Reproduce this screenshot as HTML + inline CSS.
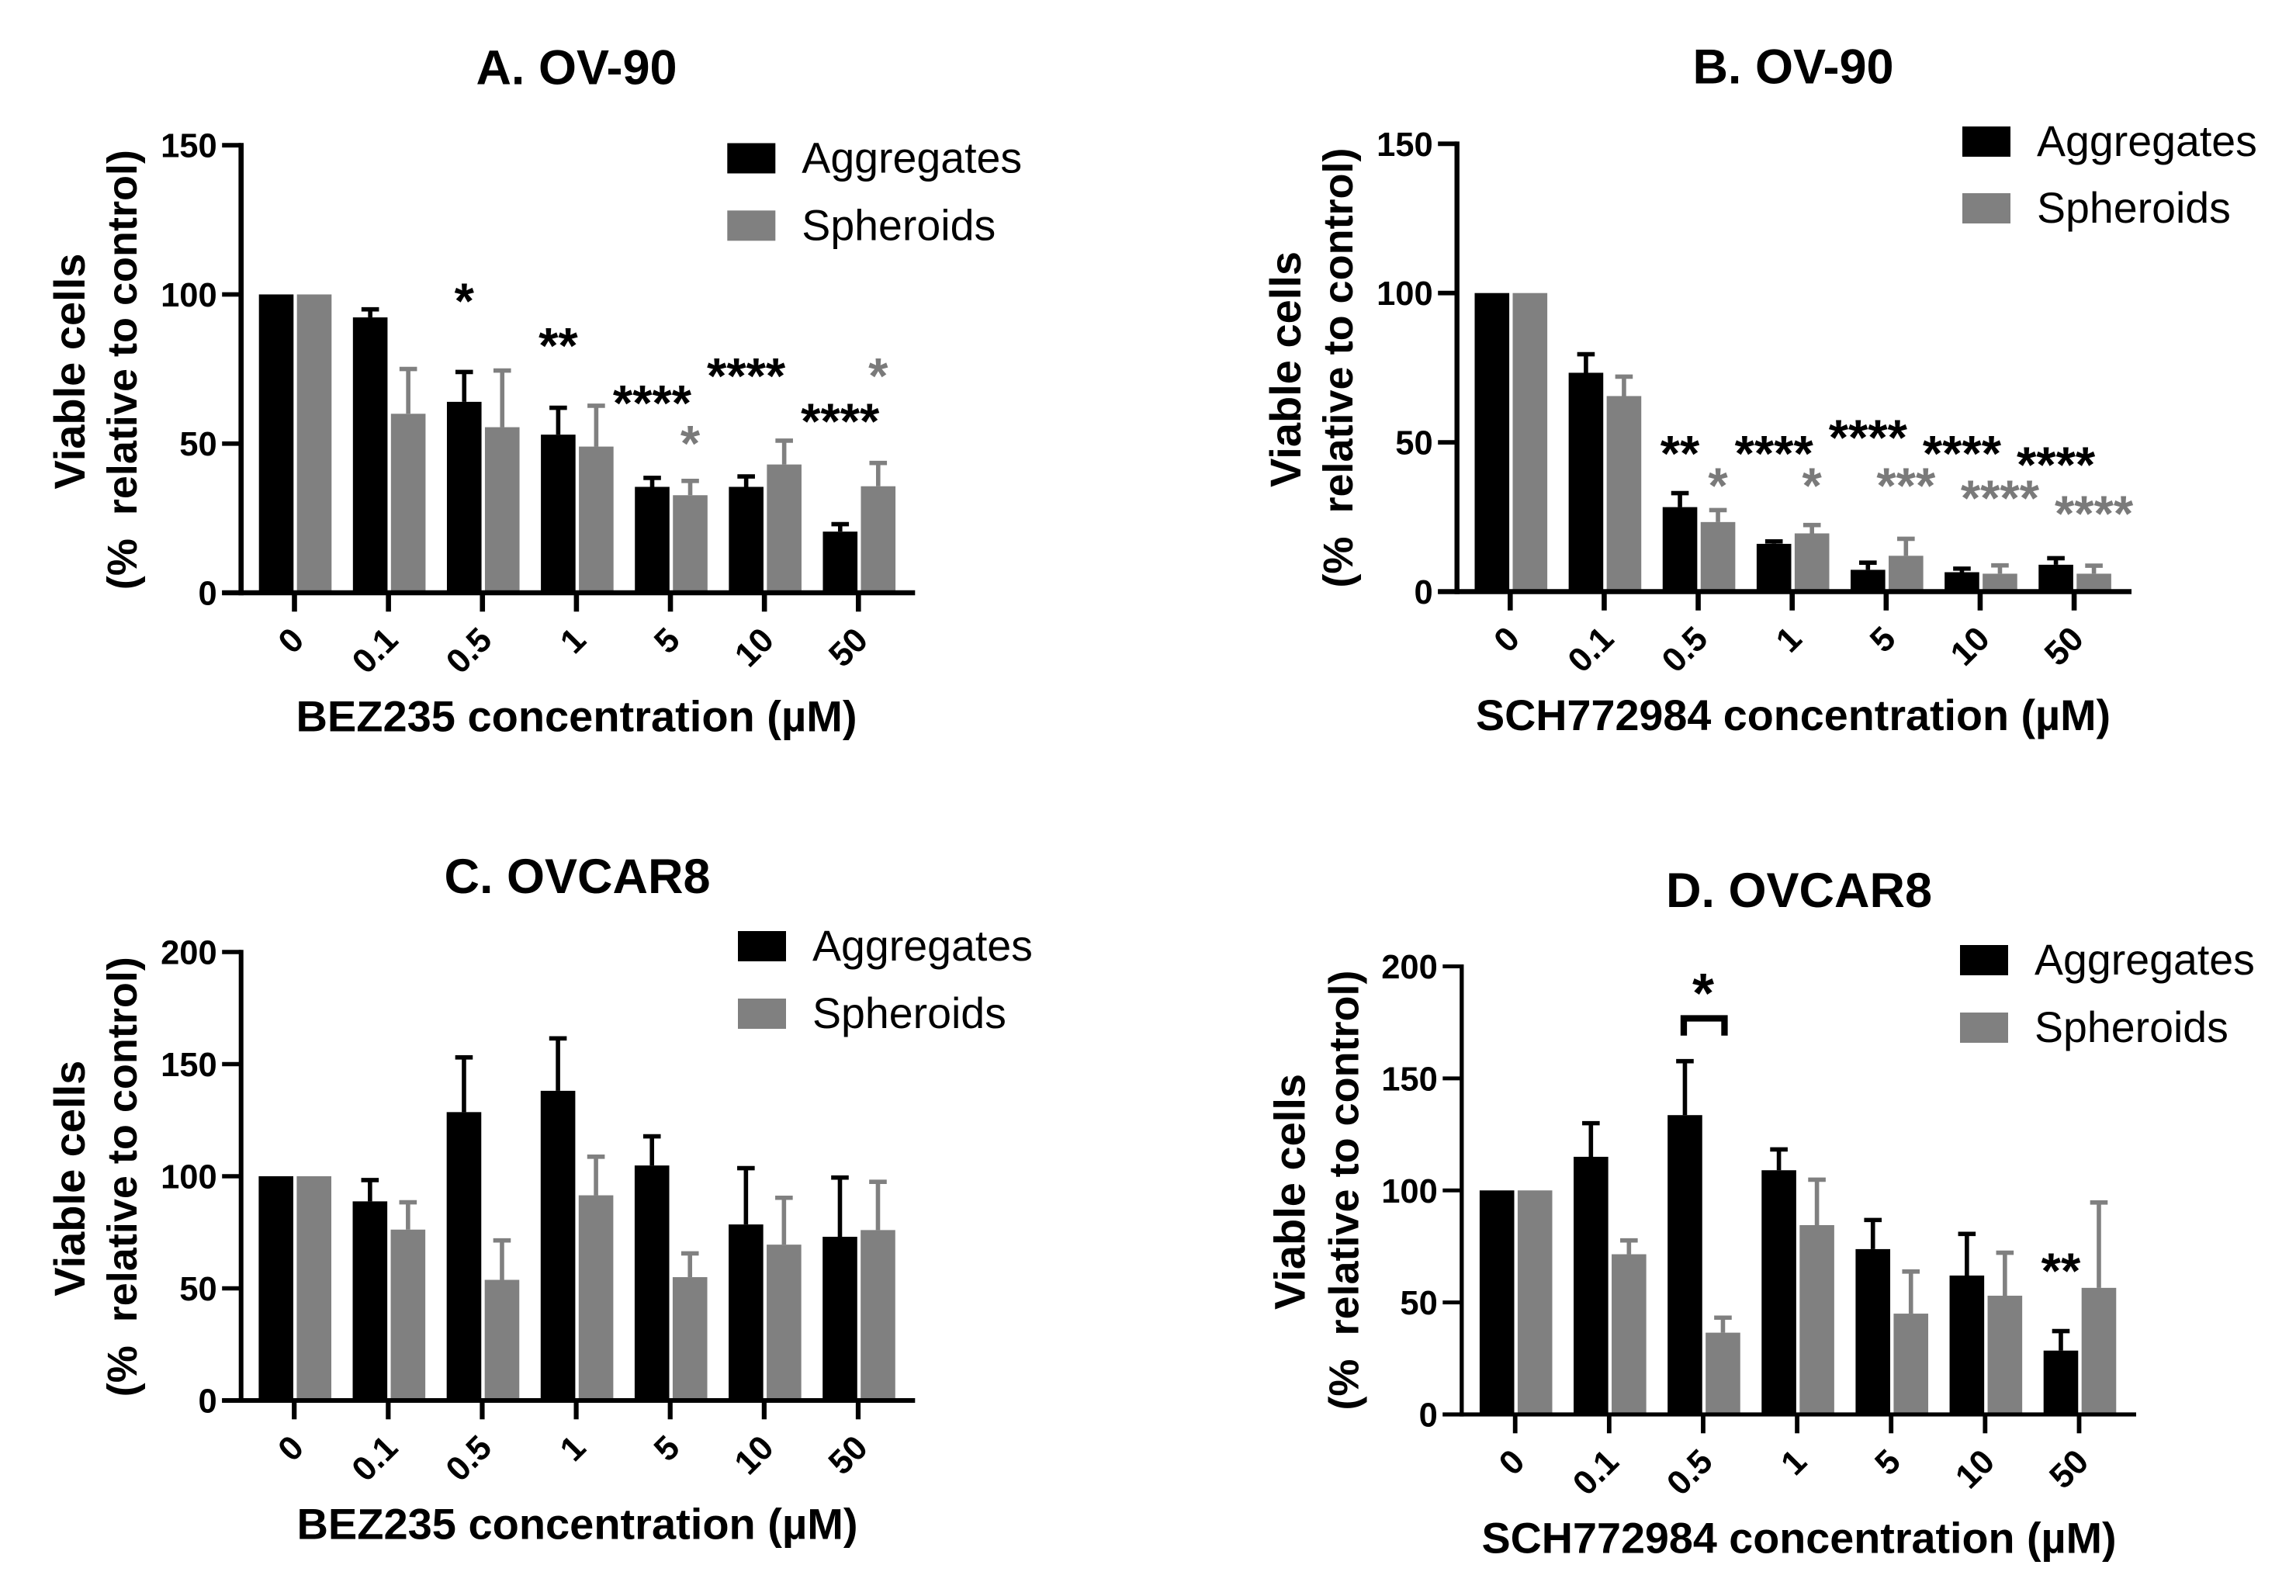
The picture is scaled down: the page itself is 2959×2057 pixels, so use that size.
<!DOCTYPE html>
<html lang="en">
<head>
<meta charset="utf-8">
<title>Viable cells bar charts</title>
<style>
html,body{margin:0;padding:0;background:#fff;}
svg{display:block;}
text{font-family:"Liberation Sans",Arial,sans-serif;fill:#000;}
.bold{font-weight:700;}
</style>
</head>
<body>
<svg id="figure" xmlns="http://www.w3.org/2000/svg" width="2959" height="2057" viewBox="0 0 2959 2057"></svg>
<script>
const categories = ['0','0.1','0.5','1','5','10','50'];
const seriesNames = ['Aggregates','Spheroids'];

const aAggregates = [100,92.3,64,53,35.5,35.5,20.5];
const aAggregatesUpper = [100,95,74,62,38.5,39,23];
const aSpheroids = [100,60,55.5,49,32.7,43,35.7];
const aSpheroidsUpper = [100,75,74.5,62.7,37.5,51,43.5];
const aTicks = [0,50,100,150];
const aSigLabels = ['*','**','****','****','****','*','*'];
const aSigSeries = [0,0,0,0,0,1,1];
const aSigCategories = [2,3,4,5,6,4,6];
const aSigLevels = [99.9,84.9,65.7,74.8,59.5,52.2,74.8];

const bAggregates = [100,73.3,28.3,16,7.3,6.5,9];
const bAggregatesUpper = [100,79.5,33,16.8,9.7,7.7,11.2];
const bSpheroids = [100,65.5,23.3,19.5,12,6,6];
const bSpheroidsUpper = [100,72,27.3,22.3,17.7,8.8,8.7];
const bTicks = [0,50,100,150];
const bSigLabels = ['**','****','****','****','****','*','*','***','****','****'];
const bSigSeries = [0,0,0,0,0,1,1,1,1,1];
const bSigCategories = [2,3,4,5,6,2,3,4,5,6];
const bSigLevels = [48.4,48.4,53.6,48.4,44.6,37.6,37.6,37.6,33.4,28.2];

const cAggregates = [100,88.8,128.6,138.1,104.8,78.5,73];
const cAggregatesUpper = [100,98.3,153,161.5,117.8,103.6,99.4];
const cSpheroids = [100,76.2,53.8,91.5,55,69.5,76];
const cSpheroidsUpper = [100,88.4,71.4,108.7,65.6,90.4,97.5];
const cTicks = [0,50,100,150,200];
const cSigLabels = [];
const cSigSeries = [];
const cSigCategories = [];
const cSigLevels = [];

const dAggregates = [100,115,133.6,109,73.8,62,28.5];
const dAggregatesUpper = [100,130,157.7,118.3,86.8,80.6,37.2];
const dSpheroids = [100,71.5,36.5,84.5,45,53,56.5];
const dSpheroidsUpper = [100,77.7,43.2,104.8,63.8,72.2,94.6];
const dTicks = [0,50,100,150,200];
const dSigLabels = ['**'];
const dSigSeries = [0];
const dSigCategories = [6];
const dSigLevels = [66.8];

const NS = 'http://www.w3.org/2000/svg';
const figure = document.getElementById('figure');
const BLACK = '#000000';
const GRAY = '#808080';

function shape(parent, tag, attrs, text) {
  const el = document.createElementNS(NS, tag);
  for (const key in attrs) el.setAttribute(key, attrs[key]);
  if (text !== undefined) el.textContent = text;
  parent.appendChild(el);
  return el;
}

function drawPanel(cfg) {
  const g = shape(figure, 'g', {});
  
  

  const yScale = v => cfg.y0 - (v / cfg.yMax) * (cfg.y0 - cfg.yTop);
  const xScale = i => cfg.x0 + i * cfg.step;
  const barWidth = 44.6;
  const barOffset = s => (s === 0 ? -23.5 : 25.5);
  const seriesColor = s => (s === 0 ? BLACK : GRAY);

  const title = shape(g, 'text', {x: cfg.cx, y: cfg.titleY, 'text-anchor': 'middle', 'font-size': 63, 'class': 'bold'}, cfg.title);
  
  

  [cfg.aggregates, cfg.spheroids].forEach((values, s) => {
    const upper = s === 0 ? cfg.aggregatesUpper : cfg.spheroidsUpper;
    values.forEach((v, i) => {
      const cx = xScale(i) + barOffset(s);
      const bar = shape(g, 'rect', {x: cx - barWidth / 2, y: yScale(v), width: barWidth, height: cfg.y0 - yScale(v), fill: seriesColor(s)});
      
      
      if (upper[i] > v) {
        const err = shape(g, 'path', {d: 'M' + cx + ' ' + yScale(v) + 'V' + yScale(upper[i]) + 'M' + (cx - 11.3) + ' ' + yScale(upper[i]) + 'H' + (cx + 11.3), stroke: seriesColor(s), 'stroke-width': 5.6, fill: 'none'});
        
        
      }
    });
  });

  const yAxis = shape(g, 'line', {x1: cfg.axisX, x2: cfg.axisX, y1: cfg.yTop - cfg.tickWidth / 2, y2: cfg.y0 + cfg.axisWidth / 2, stroke: BLACK, 'stroke-width': cfg.axisWidth});
  
  
  const xAxis = shape(g, 'line', {x1: cfg.axisX - 24.5, x2: cfg.axisEnd, y1: cfg.y0, y2: cfg.y0, stroke: BLACK, 'stroke-width': cfg.axisWidth});
  
  

  cfg.ticks.forEach(t => {
    const y = yScale(t);
    const tick = shape(g, 'line', {x1: cfg.axisX - 24.5, x2: cfg.axisX, y1: y, y2: y, stroke: BLACK, 'stroke-width': cfg.tickWidth});
    
    
    const label = shape(g, 'text', {x: cfg.axisX - 31, y: y + 15.5, 'text-anchor': 'end', 'font-size': 43.5, 'class': 'bold'}, String(t));
    
    
  });

  categories.forEach((c, i) => {
    const x = xScale(i);
    const tick = shape(g, 'line', {x1: x, x2: x, y1: cfg.y0, y2: cfg.y0 + 24.3, stroke: BLACK, 'stroke-width': cfg.tickWidth + 0.8});
    
    
    const lx = x + 14.7;
    const ly = cfg.y0 + 63.5;
    const label = shape(g, 'text', {x: lx, y: ly, 'text-anchor': 'end', 'font-size': 44, 'class': 'bold', transform: 'rotate(-45 ' + lx + ' ' + ly + ')'}, c);
    
    
  });

  const xTitle = shape(g, 'text', {x: cfg.cx, y: cfg.xTitleY, 'text-anchor': 'middle', 'font-size': cfg.xTitleSize, 'class': 'bold'}, cfg.xTitle);
  
  

  const y1 = shape(g, 'text', {x: cfg.yLabelX1, y: cfg.yLabelCy, 'text-anchor': 'middle', 'font-size': 56, 'class': 'bold', transform: 'rotate(-90 ' + cfg.yLabelX1 + ' ' + cfg.yLabelCy + ')'}, 'Viable cells');
  
  
  const y2Cy = cfg.yLabelCy - 2;
  const y2 = shape(g, 'text', {x: cfg.yLabelX2, y: y2Cy, 'text-anchor': 'middle', 'font-size': 54, 'class': 'bold', style: 'white-space:pre', transform: 'rotate(-90 ' + cfg.yLabelX2 + ' ' + y2Cy + ')'}, '(%  relative to control)');
  
  

  seriesNames.forEach((name, s) => {
    const sy = cfg.legendY[s];
    const swatch = shape(g, 'rect', {x: cfg.legendX, y: sy, width: 62, height: 39, fill: seriesColor(s)});
    
    
    const text = shape(g, 'text', {x: cfg.legendX + 96, y: sy + 38, 'font-size': 55.5}, name);
    
    
  });

  cfg.sigLabels.forEach((lab, k) => {
    const s = cfg.sigSeries[k];
    const x = xScale(cfg.sigCategories[k]) + barOffset(s);
    const y = yScale(cfg.sigLevels[k]) + 30.5;
    const mark = shape(g, 'text', {x: x, y: y, 'text-anchor': 'middle', 'font-size': 65, 'class': 'bold', style: 'fill:' + (s === 0 ? BLACK : '#7a7a7a')}, lab);
    
    
  });

  if (cfg.bracket) {
    const x = xScale(cfg.bracket.category);
    const top = yScale(cfg.bracket.top);
    const foot = yScale(cfg.bracket.foot);
    const br = shape(g, 'path', {d: 'M' + (x - 25) + ' ' + foot + 'V' + top + 'H' + (x + 27.5) + 'V' + foot, stroke: BLACK, 'stroke-width': 8.3, fill: 'none'});
    
    
    const star = shape(g, 'text', {x: x, y: yScale(cfg.bracket.label) + 33, 'text-anchor': 'middle', 'font-size': 72, 'class': 'bold'}, '*');
    
    
  }
}

drawPanel({id:'a', title:'A. OV-90', xTitle:'BEZ235 concentration (µM)', xTitleSize:56,
  aggregates:aAggregates, aggregatesUpper:aAggregatesUpper, spheroids:aSpheroids, spheroidsUpper:aSpheroidsUpper,
  ticks:aTicks, yMax:150, sigLabels:aSigLabels, sigSeries:aSigSeries, sigCategories:aSigCategories, sigLevels:aSigLevels,
  axisX:310.7, axisEnd:1179.3, x0:379.5, step:121.13, y0:764, yTop:187.2, axisWidth:6.6, tickWidth:5.8,
  cx:743, titleY:108.6, xTitleY:942.5, yLabelX1:109, yLabelX2:176, yLabelCy:478.6, legendX:937.3, legendY:[184.5,271.3]});

drawPanel({id:'b', title:'B. OV-90', xTitle:'SCH772984 concentration (µM)', xTitleSize:55.7,
  aggregates:bAggregates, aggregatesUpper:bAggregatesUpper, spheroids:bSpheroids, spheroidsUpper:bSpheroidsUpper,
  ticks:bTicks, yMax:150, sigLabels:bSigLabels, sigSeries:bSigSeries, sigCategories:bSigCategories, sigLevels:bSigLevels,
  axisX:1877.7, axisEnd:2747, x0:1946.3, step:121.13, y0:762.5, yTop:185.3, axisWidth:6.4, tickWidth:5.8,
  cx:2311, titleY:107.3, xTitleY:941, yLabelX1:1676, yLabelX2:1743, yLabelCy:476, legendX:2529, legendY:[163,249]});

drawPanel({id:'c', title:'C. OVCAR8', xTitle:'BEZ235 concentration (µM)', xTitleSize:56,
  aggregates:cAggregates, aggregatesUpper:cAggregatesUpper, spheroids:cSpheroids, spheroidsUpper:cSpheroidsUpper,
  ticks:cTicks, yMax:200, sigLabels:cSigLabels, sigSeries:cSigSeries, sigCategories:cSigCategories, sigLevels:cSigLevels,
  axisX:310.7, axisEnd:1179.3, x0:379.2, step:121.13, y0:1805, yTop:1227, axisWidth:6, tickWidth:5.4,
  cx:744, titleY:1151, xTitleY:1983.5, yLabelX1:109, yLabelX2:176, yLabelCy:1518.7, legendX:951, legendY:[1200,1287]});

drawPanel({id:'d', title:'D. OVCAR8', xTitle:'SCH772984 concentration (µM)', xTitleSize:55.7,
  aggregates:dAggregates, aggregatesUpper:dAggregatesUpper, spheroids:dSpheroids, spheroidsUpper:dSpheroidsUpper,
  ticks:dTicks, yMax:200, sigLabels:dSigLabels, sigSeries:dSigSeries, sigCategories:dSigCategories, sigLevels:dSigLevels,
  bracket:{category:2, top:176.8, foot:169.1, label:190.9},
  axisX:1883.8, axisEnd:2753, x0:1952.7, step:121.13, y0:1823, yTop:1245.5, axisWidth:5.3, tickWidth:5,
  cx:2318.5, titleY:1169, xTitleY:2001.4, yLabelX1:1681.6, yLabelX2:1750.5, yLabelCy:1536, legendX:2526, legendY:[1218,1305]});
</script>
</body>
</html>
